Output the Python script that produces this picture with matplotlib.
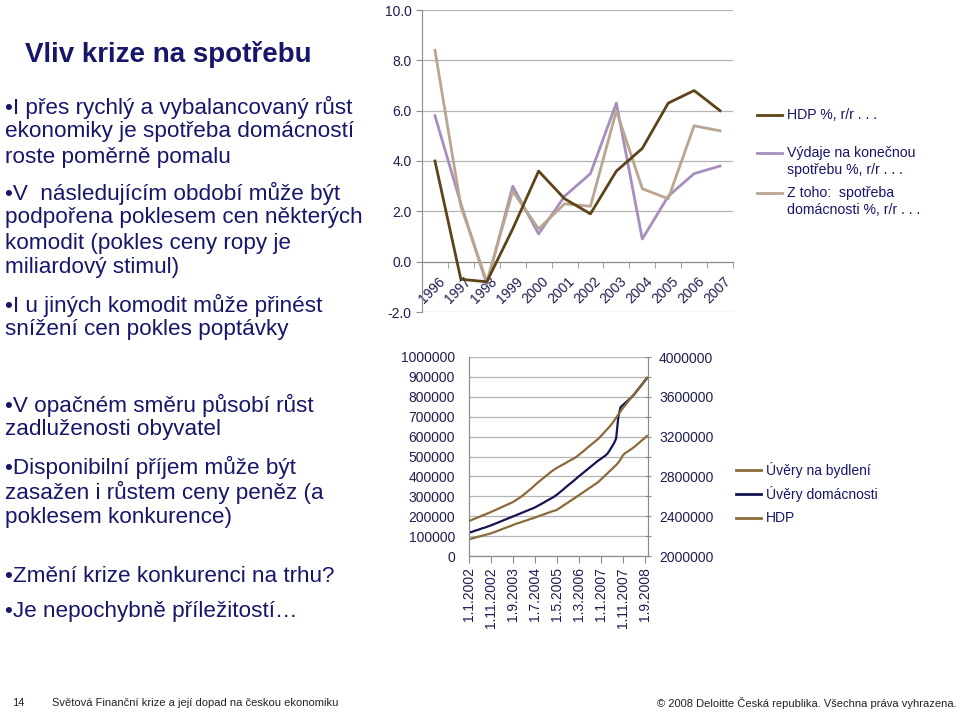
import numpy as np
import matplotlib
matplotlib.use("Agg")
import matplotlib.pyplot as plt
from matplotlib.transforms import ScaledTranslation
from matplotlib.lines import Line2D

plt.rcParams['font.family'] = ['Liberation Sans', 'DejaVu Sans']

# ---------------- data: top chart ----------------
years = ['1996', '1997', '1998', '1999', '2000', '2001', '2002', '2003', '2004', '2005', '2006', '2007']
hdp_pct = [4.0, -0.7, -0.8, 1.3, 3.6, 2.5, 1.9, 3.6, 4.5, 6.3, 6.8, 6.0]
vydaje_pct = [5.8, 2.3, -0.9, 3.0, 1.1, 2.6, 3.5, 6.3, 0.9, 2.6, 3.5, 3.8]
domacnosti_pct = [8.4, 2.2, -0.8, 2.8, 1.3, 2.3, 2.2, 6.0, 2.9, 2.5, 5.4, 5.2]
top_legend = [['HDP %, r/r . . .'],
              ['Výdaje na konečnou', 'spotřebu %, r/r . . .'],
              ['Z toho:  spotřeba', 'domácnosti %, r/r . . .']]

# ---------------- data: bottom chart (monthly, Jan 2002 - Oct 2008, thousands) ----------------
uvery_bydleni = [84, 87, 90, 93, 96, 99, 102, 105, 108, 111,
                 114, 118, 122, 126, 130, 135, 139, 143, 147, 151,
                 156, 160, 164, 167, 171, 175, 178, 182, 186, 189,
                 193, 197, 201, 205, 209, 213, 217, 221, 225, 228,
                 232, 239, 246, 254, 261, 268, 276, 283, 290, 298,
                 305, 313, 320, 328, 335, 343, 350, 358, 365, 373,
                 384, 394, 405, 415, 426, 436, 447, 457,
                 470, 485, 505, 516,
                 523, 531, 538, 546,
                 555, 565, 574, 584, 593, 603]
uvery_domacnosti = [117, 120, 124, 128, 131, 135, 139, 142, 146, 150,
                    154, 158, 163, 167, 172, 176, 181, 185, 190, 194,
                    199, 203, 208, 212, 217, 221, 226, 230, 235, 239,
                    244, 250, 256, 262, 268, 275, 281, 287, 293, 300,
                    308, 317, 326, 335, 345, 354, 363, 372, 381, 391,
                    400, 409, 418, 427, 436, 445, 454, 463, 472, 481,
                    488, 496, 504, 514, 530, 548, 566, 591,
                    700, 748, 758, 768,
                    778, 788, 798, 809,
                    823, 837, 851, 865, 879, 893]
hdp_abs = [2352, 2360, 2370, 2378, 2388, 2396, 2406, 2414, 2424, 2432,
           2442, 2452, 2462, 2472, 2482, 2492, 2502, 2512, 2522, 2532,
           2542, 2556, 2570, 2584, 2600, 2618, 2636, 2654, 2672, 2692,
           2712, 2732, 2750, 2768, 2786, 2804, 2822, 2840, 2856, 2872,
           2886, 2898, 2910, 2922, 2934, 2948, 2960, 2972, 2984, 2998,
           3016, 3034, 3052, 3070, 3090, 3108, 3126, 3144, 3162, 3180,
           3204, 3228, 3252, 3276, 3300, 3328, 3358, 3390, 3422, 3454,
           3486, 3512, 3540, 3568, 3596, 3624, 3652,
           3680, 3708, 3736, 3764, 3792]
date_labels = ['1.1.2002', '1.11.2002', '1.9.2003', '1.7.2004', '1.5.2005',
               '1.3.2006', '1.1.2007', '1.11.2007', '1.9.2008']
bottom_legend = ['Úvěry na bydlení', 'Úvěry domácnosti', 'HDP']

# ---------------- slide text ----------------
title = 'Vliv krize na spotřebu'
bullets = [
    (107, ['•I přes rychlý a vybalancovaný růst', 'ekonomiky je spotřeba domácností', 'roste poměrně pomalu']),
    (193, ['•V  následujícím období může být', 'podpořena poklesem cen některých', 'komodit (pokles ceny ropy je', 'miliardový stimul)']),
    (305, ['•I u jiných komodit může přinést', 'snížení cen pokles poptávky']),
    (405, ['•V opačném směru působí růst', 'zadluženosti obyvatel']),
    (467, ['•Disponibilní příjem může být', 'zasažen i růstem ceny peněz (a', 'poklesem konkurence)']),
    (576, ['•Změní krize konkurenci na trhu?']),
    (612, ['•Je nepochybně příležitostí…']),
]
footer_left_num = '14'
footer_left = 'Světová Finanční krize a její dopad na českou ekonomiku'
footer_right = '© 2008 Deloitte Česká republika. Všechna práva vyhrazena.'

W, H = 960, 714
fig = plt.figure(figsize=(W / 100, H / 100), dpi=100)
fig.patch.set_facecolor('white')

def fx(px):
    return px / W

def fy(py):
    return 1 - py / H

navy = '#16166A'
grid_c = '#B4B4B4'
axis_c = '#8C8C8C'
tick_c = '#1E1E50'

# ---- slide text ----
fig.text(fx(25), fy(54), title, fontsize=20, fontweight='bold', color=navy, va='center', ha='left')
for y0, lines in bullets:
    for i, line in enumerate(lines):
        fig.text(fx(5), fy(y0 + i * 25), line, fontsize=16.2, color=navy, va='center', ha='left')

fig.text(fx(12), fy(703), footer_left_num, fontsize=8, color='#222222', va='center', ha='left')
fig.text(fx(52), fy(703), footer_left, fontsize=8, color='#222222', va='center', ha='left')
fig.text(fx(957), fy(703), footer_right, fontsize=8, color='#222222', va='center', ha='right')

# ---------------- top chart ----------------
ax1 = fig.add_axes([fx(422), fy(312), fx(733) - fx(422), (312 - 10) / H])
x = np.arange(len(years))
c_hdp, c_vyd, c_dom = '#5E4218', '#A88EBE', '#B9A590'
ax1.plot(x, vydaje_pct, color=c_vyd, lw=2.0, zorder=3)
ax1.plot(x, domacnosti_pct, color=c_dom, lw=2.0, zorder=3)
ax1.plot(x, hdp_pct, color=c_hdp, lw=2.0, zorder=4)
ax1.set_xlim(-0.5, len(years) - 0.5)
ax1.set_ylim(-2, 10)
ax1.set_yticks(np.arange(-2, 10.1, 2))
ax1.set_yticklabels([f'{v:.1f}' for v in np.arange(-2, 10.1, 2)])
ax1.yaxis.grid(True, color=grid_c, lw=0.9)
ax1.set_axisbelow(True)
for s in ['top', 'right']:
    ax1.spines[s].set_visible(False)
ax1.spines['left'].set_color(axis_c)
ax1.spines['bottom'].set_position(('data', 0))
ax1.spines['bottom'].set_color(axis_c)
ax1.tick_params(axis='y', colors=axis_c, labelcolor=tick_c, labelsize=10, length=4, direction='out')
ax1.set_xticks(x)
ax1.set_xticklabels(years, rotation=45, ha='right', rotation_mode='anchor')
ax1.set_xticks(np.arange(-0.5, len(years)), minor=True)
ax1.tick_params(axis='x', which='major', length=0, labelsize=10, labelcolor=tick_c, pad=2)
ax1.tick_params(axis='x', which='minor', length=4, color=axis_c, direction='out')
for lbl in ax1.get_xticklabels():
    lbl.set_transform(lbl.get_transform() + ScaledTranslation(0.03, -0.10, fig.dpi_scale_trans))

leg_top = [(115, c_hdp), (153, c_vyd), (193, c_dom)]
for (yy, col), lines in zip(leg_top, top_legend):
    fig.add_artist(Line2D([fx(757), fx(782)], [fy(yy), fy(yy)], color=col, lw=2.0))
    for j, txt in enumerate(lines):
        fig.text(fx(787), fy(yy + 17 * j), txt, fontsize=10.2, color=navy, va='center', ha='left')

# ---------------- bottom chart ----------------
ax2 = fig.add_axes([fx(469), fy(556), fx(648) - fx(469), (556 - 357) / H])
ax3 = ax2.twinx()
m = np.arange(len(uvery_bydleni))
c_bro = '#8B6A3A'
c_navy = '#141452'
ax2.plot(m, np.array(uvery_bydleni) * 1000, color=c_bro, lw=1.6, zorder=3)
ax2.plot(m, np.array(uvery_domacnosti) * 1000, color=c_navy, lw=1.6, zorder=4)
ax3.plot(m, np.array(hdp_abs) * 1000, color=c_bro, lw=1.6, zorder=3)
ax2.set_xlim(0, len(m) - 0.5)
ax2.set_ylim(0, 1000000)
ax3.set_ylim(2000000, 4000000)
ax2.set_yticks(np.arange(0, 1000001, 100000))
ax2.set_yticklabels([f'{int(v)}' for v in np.arange(0, 1000001, 100000)])
ax3.set_yticks(np.arange(2000000, 4000001, 200000))
ax3.set_yticklabels([f'{int(v)}' if i % 2 == 0 else '' for i, v in enumerate(np.arange(2000000, 4000001, 200000))])
ax2.yaxis.grid(True, color=grid_c, lw=0.9)
ax2.set_axisbelow(True)
ax2.set_xticks(np.arange(0, 81, 10))
ax2.set_xticklabels(date_labels, rotation=90)
for a in (ax2, ax3):
    a.spines['top'].set_visible(False)
    for s in ['left', 'right', 'bottom']:
        a.spines[s].set_color(axis_c)
ax2.tick_params(axis='y', length=0, labelsize=10, labelcolor=tick_c, pad=10)
ax3.tick_params(axis='y', length=4, color=axis_c, labelsize=10, labelcolor=tick_c, pad=6, direction='inout')
ax2.tick_params(axis='x', length=5, color=axis_c, labelsize=10, labelcolor=tick_c, pad=3)

leg_bot = [(470, c_bro), (494, c_navy), (518, c_bro)]
for (yy, col), txt in zip(leg_bot, bottom_legend):
    fig.add_artist(Line2D([fx(736), fx(761)], [fy(yy), fy(yy)], color=col, lw=2.0))
    fig.text(fx(766), fy(yy), txt, fontsize=10, color=navy, va='center', ha='left')

fig.savefig('out.png', dpi=100, facecolor='white')
